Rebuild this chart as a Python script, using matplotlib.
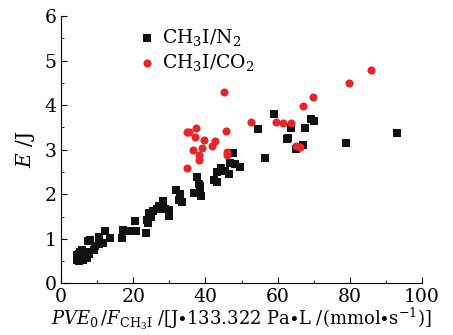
import matplotlib

matplotlib.use("Agg")
import matplotlib.pyplot as plt
from matplotlib.ticker import MultipleLocator

# CH3I/N2 (black squares)
n2_x = [4.3, 4.4, 4.5, 4.6, 4.8, 5.0, 5.1, 5.3, 5.3, 5.5, 5.7, 5.9, 6.2, 6.5, 6.9,
        7.3, 7.4, 7.8, 8.0, 9.1, 9.5, 10.4, 10.6, 11.7, 12.2, 13.6, 17.0, 17.3,
        18.6, 20.4, 20.8, 23.5, 23.9, 24.2, 24.5, 24.8, 25.6, 26.5, 27.1, 28.0,
        28.3, 28.9, 29.8, 30.0, 31.8, 32.9, 32.7, 33.4, 36.9, 37.8, 38.1, 38.2,
        38.5, 38.6, 38.8, 42.3, 43.1, 43.3, 44.4, 45.5, 46.6, 46.7, 47.6, 48.3,
        49.7, 54.6, 56.4, 58.9, 62.6, 63.0, 63.8, 65.0, 67.0, 67.5, 69.2, 70.0,
        78.8, 93.1]
n2_y = [0.52, 0.57, 0.63, 0.58, 0.55, 0.66, 0.51, 0.60, 0.70, 0.56, 0.67, 0.76,
        0.52, 0.60, 0.71, 0.56, 0.96, 0.65, 0.97, 0.76, 0.84, 0.88, 1.05, 0.90,
        1.17, 1.03, 1.03, 1.20, 1.17, 1.41, 1.18, 1.14, 1.42, 1.35, 1.57, 1.50,
        1.63, 1.68, 1.74, 1.72, 1.84, 1.68, 1.65, 1.51, 2.09, 2.00, 1.87, 1.83,
        2.03, 2.39, 2.02, 2.24, 2.03, 2.18, 1.97, 2.32, 2.50, 2.27, 2.58, 2.53,
        2.45, 2.70, 2.92, 2.68, 2.62, 3.46, 2.81, 3.80, 3.24, 3.27, 3.49, 3.01,
        3.10, 3.49, 3.69, 3.65, 3.16, 3.37]

# CH3I/CO2 (red circles)
co2_x = [34.8, 34.9, 35.5, 36.6, 37.0, 37.3, 38.1, 38.3, 39.1, 39.6, 41.9, 42.6,
         45.2, 45.7, 46.0, 46.0, 52.6, 59.5, 61.5, 63.8, 65.0, 66.3, 66.9, 69.9,
         79.7, 85.8]
co2_y = [2.59, 3.39, 3.39, 2.99, 3.29, 3.49, 2.88, 2.77, 3.04, 3.21, 3.09, 3.19,
         4.29, 3.41, 2.95, 2.88, 3.62, 3.62, 3.59, 3.59, 3.09, 3.07, 3.99, 4.19,
         4.49, 4.79]

x_ticks = [0, 20, 40, 60, 80, 100]
y_ticks = [0, 1, 2, 3, 4, 5, 6]

plt.rcParams["font.family"] = "DejaVu Serif"
plt.rcParams["mathtext.fontset"] = "dejavuserif"

fig = plt.figure(figsize=(4.53, 3.35), dpi=100)
ax = fig.add_axes([0.1347, 0.154, 0.797, 0.798])

ax.scatter(n2_x, n2_y, marker="s", s=26, color="#111111", linewidths=0,
           label=r"CH$_3$I/N$_2$", zorder=3)
ax.scatter(co2_x, co2_y, marker="o", s=34, color="#e8262a", linewidths=0,
           label=r"CH$_3$I/CO$_2$", zorder=3)

ax.set_xlim(0, 100)
ax.set_ylim(0, 6)
ax.set_xticks(x_ticks)
ax.set_yticks(y_ticks)
ax.xaxis.set_minor_locator(MultipleLocator(10))
ax.yaxis.set_minor_locator(MultipleLocator(0.5))
ax.tick_params(which="both", direction="in", labelsize=13.5, pad=3)
ax.tick_params(which="major", length=4)
ax.tick_params(which="minor", length=2.5)
ax.spines["top"].set_visible(False)
ax.spines["right"].set_visible(False)

ax.set_xlabel(r"$PVE_0\,/F_{\rm CH_3I}$ /[J$\bullet$133.322 Pa$\bullet$L /(mmol$\bullet$s$^{-1}$)]",
              fontsize=13, labelpad=0)
ax.set_ylabel(r"$E$ /J", fontsize=14.5, labelpad=6)

ax.legend(loc="upper left", bbox_to_anchor=(0.175, 1.01), frameon=False,
          fontsize=13.5, handlelength=1.0, handletextpad=0.3,
          labelspacing=0.25, borderpad=0.2, markerscale=1.0)

fig.savefig("out.png", dpi=100)
